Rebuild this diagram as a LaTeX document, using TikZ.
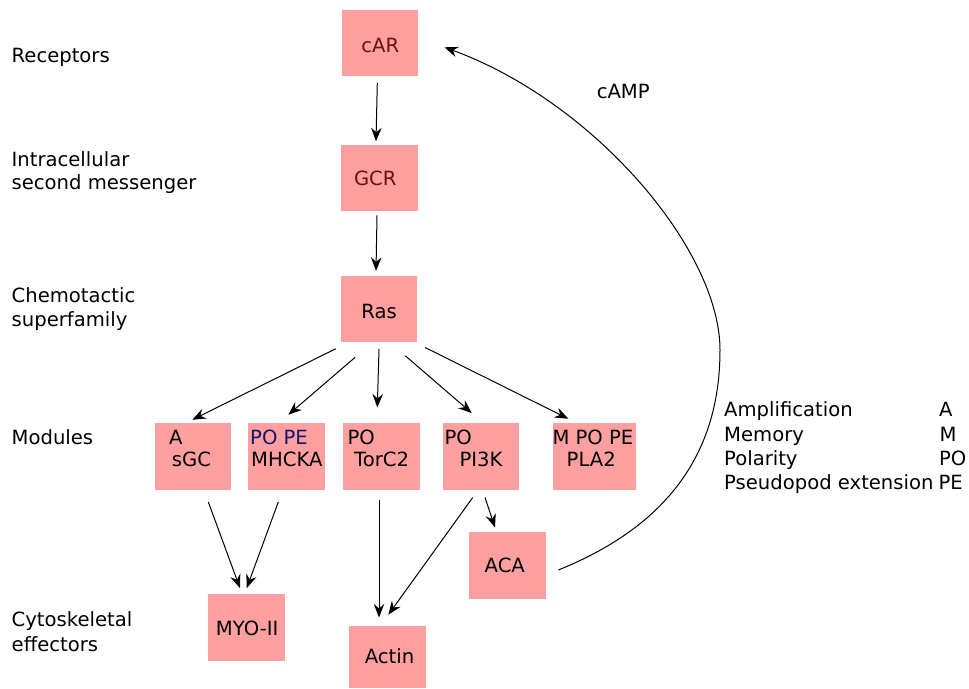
\documentclass[tikz,border=0pt]{standalone}
\usepackage{fontspec}
\setmainfont{DejaVu Sans}
\usetikzlibrary{arrows.meta,calc}
\definecolor{boxpink}{RGB}{255,159,159}
\definecolor{txtred}{RGB}{110,16,16}
\definecolor{txtblue}{RGB}{20,20,110}
\newcommand\labfont{\fontsize{19.6}{24}\selectfont}
\begin{document}
\begin{tikzpicture}[x=1pt,y=-1pt,
  box/.style={fill=boxpink,draw=none,inner sep=0,minimum width=76.5pt,minimum height=66.5pt},
  lbl/.style={anchor=base west,inner sep=0,font=\labfont},
  ctr/.style={anchor=base,inner sep=0,font=\labfont},
  arr/.style={-{Stealth[length=13.5pt,width=10.5pt,inset=4.5pt]},line width=1pt}]
\useasboundingbox (0,0) rectangle (969,688);
% boxes
\node[box] (car) at (380,43) {};
\node[box] (gcr) at (379.7,178) {};
\node[box] (ras) at (379,309) {};
\node[box] (sgc) at (193,456.5) {};
\node[box] (mhcka) at (286.7,456.5) {};
\node[box] (torc) at (381.7,456.5) {};
\node[box] (pik) at (481,456.5) {};
\node[box,minimum width=83.3pt] (pla) at (594.3,456.5) {};
\node[box] (myo) at (246.7,627.3) {};
\node[box,minimum height=61.7pt] (actin) at (387.3,656.8) {};
\node[box] (aca) at (507.3,565.3) {};
% box texts
\node[ctr,text=txtred] (tcar) at (380.3,52.3) {cAR};
\node[ctr,text=txtred] (tgcr) at (375.3,185.7) {GCR};
\node[ctr] (tras) at (379,318) {Ras};
\node[lbl] (tsgc1) at (169,444.5) {A};
\node[lbl] (tsgc2) at (171.7,466) {sGC};
\node[lbl,text=txtblue] (tmh1) at (250,444.5) {PO PE};
\node[lbl] (tmh2) at (251,466) {MHCKA};
\node[lbl] (tto1) at (347.3,444.5) {PO};
\node[lbl] (tto2) at (354,466) {TorC2};
\node[lbl] (tpi1) at (444.3,444.5) {PO};
\node[lbl] (tpi2) at (459.3,466) {PI3K};
\node[lbl] (tpl1) at (552.3,444.5) {M PO PE};
\node[lbl] (tpl2) at (566.5,466) {PLA2};
\node[ctr] (tmyo) at (247.2,635) {MYO-II};
\node[ctr] (tact) at (389.5,663.3) {Actin};
\node[ctr] (taca) at (504.8,572.3) {ACA};
% left labels
\node[lbl] (l1) at (11.5,62.3) {Receptors};
\node[lbl] (l2a) at (11.5,166) {Intracellular};
\node[lbl] (l2b) at (11.5,189.5) {second messenger};
\node[lbl] (l3a) at (11.5,302.7) {Chemotactic};
\node[lbl] (l3b) at (11.5,326) {superfamily};
\node[lbl] (l4) at (11.5,444.3) {Modules};
\node[lbl] (l5a) at (11.5,626.7) {Cytoskeletal};
\node[lbl] (l5b) at (11.5,651) {effectors};
% cAMP
\node[lbl] (camp) at (596.6,98.3) {cAMP};
% legend
\node[lbl] (g1) at (724,416.7) {Amplification};
\node[lbl] (g2) at (724,441) {Memory};
\node[lbl] (g3) at (724,465) {Polarity};
\node[lbl] (g4) at (724,489) {Pseudopod extension};
\node[lbl] (g1b) at (939,416.7) {A};
\node[lbl] (g2b) at (939.5,441) {M};
\node[lbl] (g3b) at (938.8,465) {PO};
\node[lbl] (g4b) at (938.3,489) {PE};
% arrows
\draw[arr] ($(car.south)+(-2.7,6.3)$) -- ($(gcr.north)+(-3.7,-3.3)$);
\draw[arr] ($(gcr.south)+(-2.7,4)$) -- ($(ras.north)+(-3,-4.7)$);
\draw[arr] ($(ras.south)+(-43.3,6.3)$) -- ($(sgc.north)+(-0.7,-3.3)$);
\draw[arr] ($(ras.south)+(-24,15)$) -- ($(mhcka.north)+(1.6,-8.3)$);
\draw[arr] ($(ras.south)+(0,6.6)$) -- ($(torc.north)+(-4.4,-15.6)$);
\draw[arr] ($(ras.south)+(26.3,13.3)$) -- ($(pik.north)+(-9.3,-10)$);
\draw[arr] ($(ras.south)+(46,5)$) -- ($(pla.north)+(-26,-4.3)$);
\draw[arr] ($(sgc.south)+(15.3,12)$) -- ($(myo.north)+(-6.7,-5.7)$);
\draw[arr] ($(mhcka.south)+(-8.4,12)$) -- ($(myo.north)+(0,-5.7)$);
\draw[arr] ($(torc.south)+(-2.7,10.3)$) -- ($(actin.north)+(-8.3,-8.3)$);
\draw[arr] ($(pik.south)+(-8.3,7.6)$) -- ($(actin.north)+(1,-11)$);
\draw[arr] ($(pik.south)+(4,7.6)$) -- ($(aca.north)+(-12.3,-4.3)$);
\coordinate (bend) at (720,350);
\draw[arr] ($(aca.east)+(12.6,4.7)$) .. controls (660.3,528.75) and (720,460) .. (bend)
  .. controls (720,250) and (594.4,102) .. ($(car.east)+(26,4.3)$);
\end{tikzpicture}
\end{document}
